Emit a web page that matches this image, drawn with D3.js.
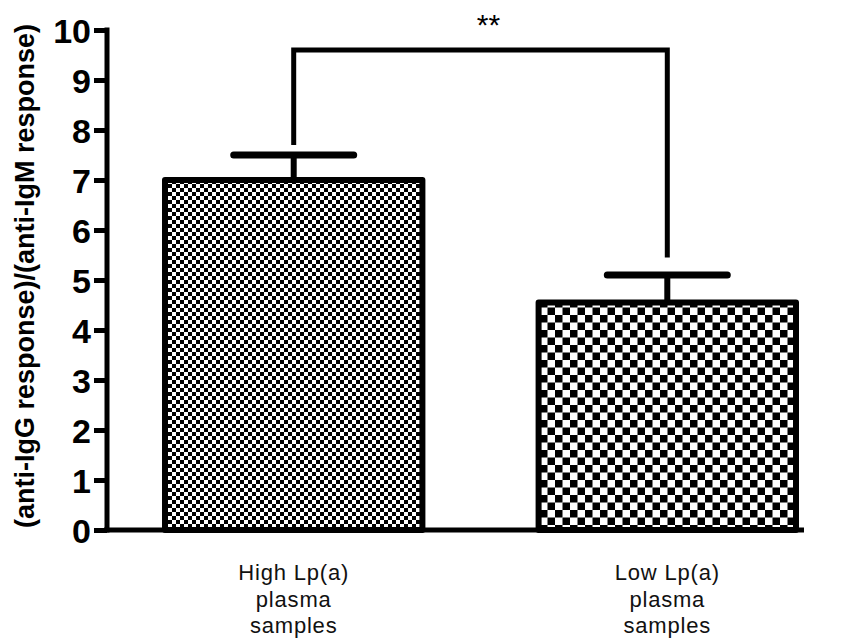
<!DOCTYPE html>
<html>
<head>
<meta charset="utf-8">
<script src="https://cdn.jsdelivr.net/npm/d3@7"></script>
<style>
  body { margin: 0; background: #fff; }
  svg { display: block; font-family: "Liberation Sans", Arial, sans-serif; }
</style>
</head>
<body>
<script>
// ---- data ----
const categories = ["High", "Low"];
const labelLines = [["High Lp(a)", "plasma", "samples"], ["Low Lp(a)", "plasma", "samples"]];
const means = [7.0, 4.55];
const errors = [0.5, 0.55];
const yTicks = [0, 1, 2, 3, 4, 5, 6, 7, 8, 9, 10];
const bracketTop = 9.6;
const bracketEnds = [7.7, 5.45];
const sigLabel = "**";
const yTitle = "(anti-IgG response)/(anti-IgM response)";

const W = 842, H = 642;

const svg = d3.select("body").append("svg")
  .attr("width", W).attr("height", H);

// checkerboard fills, fine for first bar, coarse for second
const defs = svg.append("defs");
const cells = [4, 7.5];
cells.forEach((c, i) => {
  const p = defs.append("pattern")
    .attr("id", "chk" + i)
    .attr("patternUnits", "userSpaceOnUse")
    .attr("width", 2 * c).attr("height", 2 * c);
  p.append("rect").attr("width", 2 * c).attr("height", 2 * c).attr("fill", "#fff");
  p.append("rect").attr("width", c).attr("height", c).attr("fill", "#000");
  p.append("rect").attr("x", c).attr("y", c).attr("width", c).attr("height", c).attr("fill", "#000");
});

// scales
const y = d3.scaleLinear().domain([0, 10]).range([530, 30]);
const x = d3.scaleBand().domain(categories).range([165, 796]).paddingInner(0.311).paddingOuter(0);
const cx = d => x(d) + x.bandwidth() / 2;

// bars
svg.selectAll("rect.bar")
  .data(categories)
  .enter().append("rect")
    .attr("class", "bar")
    .attr("x", d => x(d))
    .attr("y", (d, i) => y(means[i]))
    .attr("width", x.bandwidth())
    .attr("height", (d, i) => y(0) - y(means[i]))
    .attr("fill", (d, i) => "url(#chk" + i + ")")
    .attr("stroke", "#000")
    .attr("stroke-width", 6)
    .attr("stroke-linejoin", "round");

// error bars (upper only)
svg.selectAll("line.stem")
  .data(categories)
  .enter().append("line")
    .attr("x1", cx).attr("x2", cx)
    .attr("y1", (d, i) => y(means[i]))
    .attr("y2", (d, i) => y(means[i] + errors[i]))
    .attr("stroke", "#000").attr("stroke-width", 6);
svg.selectAll("line.cap")
  .data(categories)
  .enter().append("line")
    .attr("x1", d => cx(d) - 60).attr("x2", d => cx(d) + 60)
    .attr("y1", (d, i) => y(means[i] + errors[i]))
    .attr("y2", (d, i) => y(means[i] + errors[i]))
    .attr("stroke", "#000").attr("stroke-width", 7)
    .attr("stroke-linecap", "round");

// significance bracket
svg.append("path")
  .attr("d", d3.line()([
    [cx(categories[0]), y(bracketEnds[0])],
    [cx(categories[0]), y(bracketTop)],
    [cx(categories[1]), y(bracketTop)],
    [cx(categories[1]), y(bracketEnds[1])]
  ]))
  .attr("fill", "none").attr("stroke", "#000").attr("stroke-width", 5);

svg.append("text")
  .attr("x", (cx(categories[0]) + cx(categories[1])) / 2 + 8)
  .attr("y", 35)
  .attr("text-anchor", "middle")
  .style("font-size", "30px")
  .text(sigLabel);

// y axis
const yAxis = svg.append("g")
  .attr("transform", "translate(107,0)")
  .call(d3.axisLeft(y).tickValues(yTicks).tickSize(13).tickSizeOuter(0).tickPadding(3));
yAxis.select(".domain").attr("stroke-width", 5).attr("d", "M0," + (y(0) + 2.5) + "V" + (y(10) - 2.5));
yAxis.selectAll(".tick line").attr("stroke-width", 5);
yAxis.selectAll(".tick text")
  .attr("fill", "#000")
  .style("font-size", "34px")
  .style("font-weight", "bold")
  .attr("dy", "0.36em");

// x axis line
svg.append("line")
  .attr("x1", 104).attr("x2", 804)
  .attr("y1", y(0)).attr("y2", y(0))
  .attr("stroke", "#000").attr("stroke-width", 5);

// category labels
const lab = svg.selectAll("text.cat")
  .data(categories)
  .enter().append("text")
    .attr("class", "cat")
    .attr("text-anchor", "middle")
    .style("font-size", "22px")
    .style("letter-spacing", "0.8px")
    .attr("fill", "#111");
lab.each(function (d, i) {
  labelLines[i].forEach((t, k) => {
    d3.select(this).append("tspan")
      .attr("x", cx(d))
      .attr("y", 580 + k * 26.5)
      .text(t);
  });
});

// y title
svg.append("text")
  .attr("transform", "translate(34,276) rotate(-90)")
  .attr("text-anchor", "middle")
  .style("font-size", "27px")
  .style("font-weight", "bold")
  .text(yTitle);
</script>
</body>
</html>
